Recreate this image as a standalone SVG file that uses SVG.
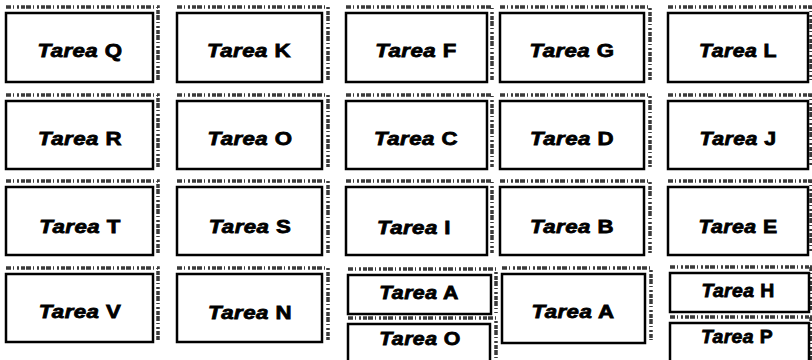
<svg xmlns="http://www.w3.org/2000/svg" width="812" height="360" viewBox="0 0 812 360">
<style>
.box{fill:#fff;stroke:#000;stroke-width:2.5}
.sh{fill:none;stroke:#3a3a3a;stroke-width:3.5;stroke-dasharray:5 2 1 3 2 2 4 1}
.t{font-family:"Liberation Sans",Arial,sans-serif;font-size:19px;font-weight:bold;fill:#000;stroke:#000;stroke-width:0.8;text-anchor:middle;letter-spacing:0.4px}
.i{font-style:italic}
</style>
<rect width="812" height="360" fill="#fff"/>
<g id="tarea-q"><path class="sh" d="M6 7H158V80"/><rect class="box" x="6" y="13" width="147" height="69"/><text class="t" transform="translate(80,57) scale(1.17,1)"><tspan class="i">Tarea</tspan> Q</text></g>
<g id="tarea-k"><path class="sh" d="M177 7H328V80"/><rect class="box" x="177" y="13" width="145" height="69"/><text class="t" transform="translate(249,57) scale(1.17,1)"><tspan class="i">Tarea</tspan> K</text></g>
<g id="tarea-f"><path class="sh" d="M346 7H492V80"/><rect class="box" x="346" y="13" width="141" height="69"/><text class="t" transform="translate(416,57) scale(1.17,1)"><tspan class="i">Tarea</tspan> F</text></g>
<g id="tarea-g"><path class="sh" d="M500 7H650V80"/><rect class="box" x="500" y="13" width="144" height="69"/><text class="t" transform="translate(572,57) scale(1.17,1)"><tspan class="i">Tarea</tspan> G</text></g>
<g id="tarea-l"><path class="sh" d="M668 7H811V80"/><rect class="box" x="668" y="13" width="140" height="69"/><text class="t" transform="translate(738,57) scale(1.12,1)"><tspan class="i">Tarea</tspan> L</text></g>

<g id="tarea-r"><path class="sh" d="M6 95H158V167"/><rect class="box" x="6" y="101" width="147" height="68"/><text class="t" transform="translate(80,145) scale(1.17,1)"><tspan class="i">Tarea</tspan> R</text></g>
<g id="tarea-o1"><path class="sh" d="M177 95H328V167"/><rect class="box" x="177" y="101" width="145" height="68"/><text class="t" transform="translate(250,145) scale(1.17,1)"><tspan class="i">Tarea</tspan> O</text></g>
<g id="tarea-c"><path class="sh" d="M346 95H492V167"/><rect class="box" x="346" y="101" width="141" height="68"/><text class="t" transform="translate(416,145) scale(1.17,1)"><tspan class="i">Tarea</tspan> C</text></g>
<g id="tarea-d"><path class="sh" d="M500 95H650V167"/><rect class="box" x="500" y="101" width="144" height="68"/><text class="t" transform="translate(572,145) scale(1.17,1)"><tspan class="i">Tarea</tspan> D</text></g>
<g id="tarea-j"><path class="sh" d="M668 95H811V167"/><rect class="box" x="668" y="101" width="140" height="68"/><text class="t" transform="translate(738,145) scale(1.12,1)"><tspan class="i">Tarea</tspan> J</text></g>

<g id="tarea-t"><path class="sh" d="M6 181H158V253"/><rect class="box" x="6" y="187" width="147" height="68"/><text class="t" transform="translate(80,233) scale(1.17,1)"><tspan class="i">Tarea</tspan> T</text></g>
<g id="tarea-s"><path class="sh" d="M177 181H328V253"/><rect class="box" x="177" y="187" width="145" height="68"/><text class="t" transform="translate(250,233) scale(1.17,1)"><tspan class="i">Tarea</tspan> S</text></g>
<g id="tarea-i"><path class="sh" d="M346 181H492V253"/><rect class="box" x="346" y="187" width="141" height="68"/><text class="t" transform="translate(414,234) scale(1.17,1)"><tspan class="i">Tarea</tspan> I</text></g>
<g id="tarea-b"><path class="sh" d="M500 181H650V253"/><rect class="box" x="500" y="187" width="144" height="68"/><text class="t" transform="translate(572,233) scale(1.17,1)"><tspan class="i">Tarea</tspan> B</text></g>
<g id="tarea-e"><path class="sh" d="M668 181H811V253"/><rect class="box" x="668" y="187" width="140" height="68"/><text class="t" transform="translate(738,233) scale(1.12,1)"><tspan class="i">Tarea</tspan> E</text></g>

<g id="tarea-v"><path class="sh" d="M6 268H158V340"/><rect class="box" x="6" y="274" width="147" height="68"/><text class="t" transform="translate(80,318) scale(1.17,1)"><tspan class="i">Tarea</tspan> V</text></g>
<g id="tarea-n"><path class="sh" d="M177 268H328V340"/><rect class="box" x="177" y="274" width="145" height="68"/><text class="t" transform="translate(250,319) scale(1.17,1)"><tspan class="i">Tarea</tspan> N</text></g>
<g id="tarea-a1"><path class="sh" d="M348 269H496V313"/><rect class="box" x="348" y="275" width="143" height="39"/><text class="t" transform="translate(419,299) scale(1.12,1)"><tspan class="i">Tarea</tspan> A</text></g>
<g id="tarea-o2"><path class="sh" d="M348 318H496V360"/><rect class="box" x="348" y="324" width="142" height="40"/><text class="t" transform="translate(420,345) scale(1.12,1)"><tspan class="i">Tarea</tspan> O</text></g>
<g id="tarea-a2"><path class="sh" d="M502 268H651V340"/><rect class="box" x="502" y="274" width="143" height="69"/><text class="t" transform="translate(573,318) scale(1.17,1)"><tspan class="i">Tarea</tspan> A</text></g>
<g id="tarea-h"><path class="sh" d="M670 267H811V310"/><rect class="box" x="670" y="273" width="139" height="39"/><text class="t" transform="translate(738,297) scale(1.02,1)"><tspan class="i">Tarea</tspan> H</text></g>
<g id="tarea-p"><path class="sh" d="M670 317H811V360"/><rect class="box" x="670" y="323" width="139" height="40"/><text class="t" transform="translate(737,343) scale(1.02,1)"><tspan class="i">Tarea</tspan> P</text></g>
<g id="connectors"/>
</svg>
